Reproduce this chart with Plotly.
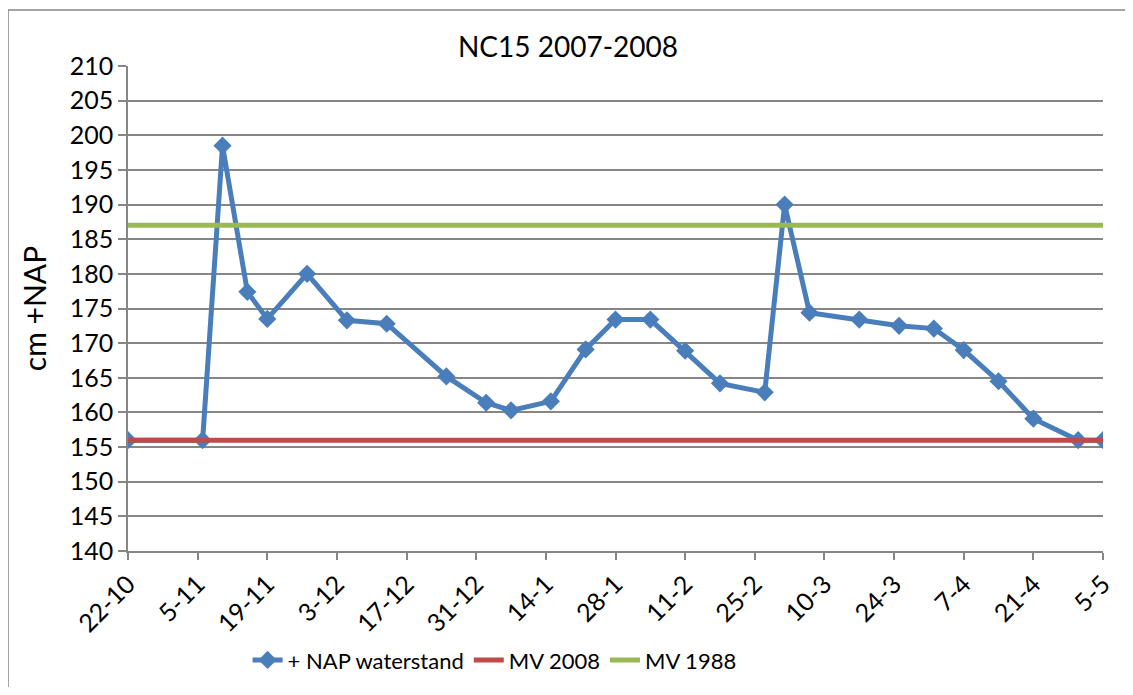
import plotly.graph_objects as go

# meetdata NC15
datums = ["2007-10-22", "2007-11-06", "2007-11-10", "2007-11-15", "2007-11-19",
          "2007-11-27", "2007-12-05", "2007-12-13", "2007-12-25", "2008-01-02",
          "2008-01-07", "2008-01-15", "2008-01-22", "2008-01-28", "2008-02-04",
          "2008-02-11", "2008-02-18", "2008-02-27", "2008-03-02", "2008-03-07",
          "2008-03-17", "2008-03-25", "2008-04-01", "2008-04-07", "2008-04-14",
          "2008-04-21", "2008-04-30", "2008-05-05"]
waterstand = [156, 156, 198.5, 177.4, 173.5, 180, 173.3, 172.8, 165.2, 161.4,
              160.3, 161.6, 169.1, 173.4, 173.4, 168.9, 164.2, 162.9, 190, 174.4,
              173.4, 172.5, 172.1, 169, 164.5, 159.1, 156, 156]
mv_2008 = 156
mv_1988 = 187

tick_datums = ["2007-10-22", "2007-11-05", "2007-11-19", "2007-12-03", "2007-12-17",
               "2007-12-31", "2008-01-14", "2008-01-28", "2008-02-11", "2008-02-25",
               "2008-03-10", "2008-03-24", "2008-04-07", "2008-04-21", "2008-05-05"]
tick_labels = ["22-10", "5-11", "19-11", "3-12", "17-12", "31-12", "14-1", "28-1",
               "11-2", "25-2", "10-3", "24-3", "7-4", "21-4", "5-5"]

font = "Lato, 'Open Sans', sans-serif"

fig = go.Figure()
fig.add_trace(go.Scatter(
    x=datums, y=waterstand, name="+ NAP waterstand", mode="lines+markers",
    line=dict(color="#4A7EBB", width=5),
    marker=dict(symbol="diamond", size=14, color="#4A7EBB"),
))
fig.add_trace(go.Scatter(
    x=[datums[0], datums[-1]], y=[mv_2008, mv_2008], name="MV 2008", mode="lines",
    line=dict(color="#BE4B48", width=5),
))
fig.add_trace(go.Scatter(
    x=[datums[0], datums[-1]], y=[mv_1988, mv_1988], name="MV 1988", mode="lines",
    line=dict(color="#98B954", width=5),
))

# kader van de grafiek: alleen linker- en bovenrand zichtbaar
kader = dict(color="#868686", width=1.5)
x_links, y_boven = (8 - 128) / 975, (551 - 10) / 485

# de pagina heeft 8px body-marge rondom, dus figuur kleiner
fig.update_layout(
    width=1117, height=679,
    margin=dict(l=120, r=22, t=58, b=136, autoexpand=False),
    paper_bgcolor="white", plot_bgcolor="white",
    font=dict(family=font, size=25, color="black"),
    title=dict(text="NC15 2007-2008", x=(568 - 8) / 1117, xanchor="center",
               xref="container", yref="container", y=1 - 39 / 679, yanchor="middle",
               font=dict(size=28)),
    showlegend=True,
    legend=dict(orientation="h", x=0.376, xanchor="center", y=-0.225, yanchor="middle",
                font=dict(size=22), traceorder="normal"),
    shapes=[
        dict(type="line", xref="paper", yref="paper", x0=x_links, x1=x_links,
             y0=-0.5, y1=y_boven, line=kader, layer="below"),
        dict(type="line", xref="paper", yref="paper", x0=x_links, x1=1.2,
             y0=y_boven, y1=y_boven, line=kader, layer="below"),
    ],
)
fig.update_xaxes(
    type="date", range=["2007-10-22", "2008-05-05"], automargin=False,
    tickvals=tick_datums, ticktext=tick_labels, tickangle=-45,
    showgrid=False, showline=True, linecolor="#868686", linewidth=1.5,
    ticks="outside", ticklen=7, tickcolor="#868686", tickwidth=1.5,
    zeroline=False,
)
fig.update_yaxes(
    range=[140, 210], dtick=5, automargin=False,
    title=dict(text="cm +NAP", standoff=14),
    showgrid=True, gridcolor="#868686", gridwidth=1.5,
    showline=True, linecolor="#868686", linewidth=1.5,
    ticks="outside", ticklen=8, tickcolor="#868686", tickwidth=1.5,
    zeroline=False,
)

fig.write_html("out.html")
